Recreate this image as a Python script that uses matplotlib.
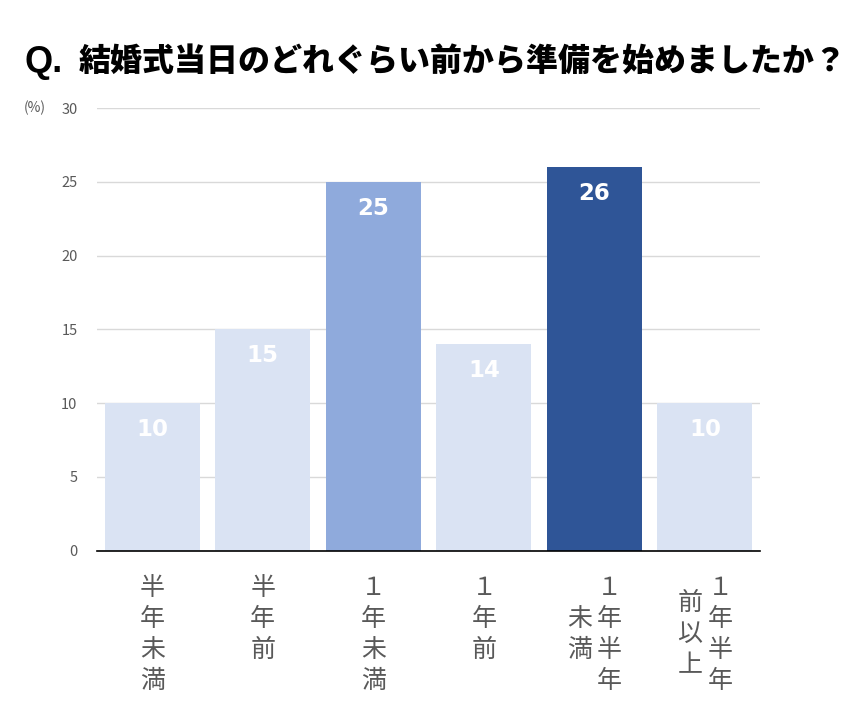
import matplotlib.pyplot as plt
import matplotlib.transforms as mtransforms

plt.rcParams['font.family'] = ['Noto Sans CJK JP', 'DejaVu Sans']

# columns of each vertical label, right column first
labels = [
    ['半年未満'],
    ['半年前'],
    ['１年未満'],
    ['１年前'],
    ['１年半年', '未満'],
    ['１年半年', '前以上'],
]
values = [10, 15, 25, 14, 26, 10]
colors = ['#dae3f3', '#dae3f3', '#8faadc', '#dae3f3', '#2f5597', '#dae3f3']
yticks = [0, 5, 10, 15, 20, 25, 30]

fig = plt.figure(figsize=(8.58, 7.2), dpi=100)
ax = fig.add_axes([0.113, 0.235, 0.773, 0.615])

x = range(len(values))
ax.bar(x, values, width=0.86, color=colors, zorder=2)
ax.set_xlim(-0.5, len(values) - 0.5)
ax.set_ylim(0, 30)
ax.set_yticks(yticks)
ax.tick_params(axis='y', length=0, pad=14, labelsize=10.5, labelcolor='#595959')
ax.tick_params(axis='x', length=0, labelbottom=False)
ax.yaxis.grid(True, color='#d9d9d9', lw=1, zorder=0)
for s in ['top', 'right', 'left']:
    ax.spines[s].set_visible(False)
ax.spines['bottom'].set_color('black')
ax.spines['bottom'].set_linewidth(1.2)
ax.spines['bottom'].set_zorder(3)

# value labels inside bars
for i, v in enumerate(values):
    ax.annotate(str(v), (i, v), xytext=(0, -19), textcoords='offset points',
                ha='center', va='center', color='white', fontsize=16.5,
                fontweight='bold', family='DejaVu Sans', zorder=4)

# vertical (tategaki) category labels
pitch = 22.3   # points between characters
colgap = 21.5  # points between columns
trans = mtransforms.blended_transform_factory(ax.transData, ax.transAxes)
for i, cols in enumerate(labels):
    maxlen = max(len(c) for c in cols)
    ncol = len(cols)
    for ci, col in enumerate(cols):
        dx = ((ncol - 1) / 2 - ci) * colgap
        start = (maxlen - len(col)) / 2
        for k, ch in enumerate(col):
            dy = -26.5 - (start + k) * pitch
            ax.annotate(ch, (i, 0), xycoords=trans, xytext=(dx, dy),
                        textcoords='offset points', ha='center', va='center',
                        fontsize=18, color='#595959', annotation_clip=False)

# "(%)" unit label
fig.text(24 / 858, 1 - 108 / 720, '(%)', fontsize=10, color='#595959',
         ha='left', va='center')

# title
fig.text(24 / 858, 1 - 62 / 720, 'Q.', fontsize=26, fontweight='bold',
         family=['Liberation Sans', 'DejaVu Sans'], ha='left', va='center')
fig.text(79 / 858, 1 - 61 / 720, '結婚式当日のどれぐらい前から準備を始めましたか？',
         fontsize=23, fontweight='black', ha='left', va='center')

fig.savefig('out.png', dpi=100)
